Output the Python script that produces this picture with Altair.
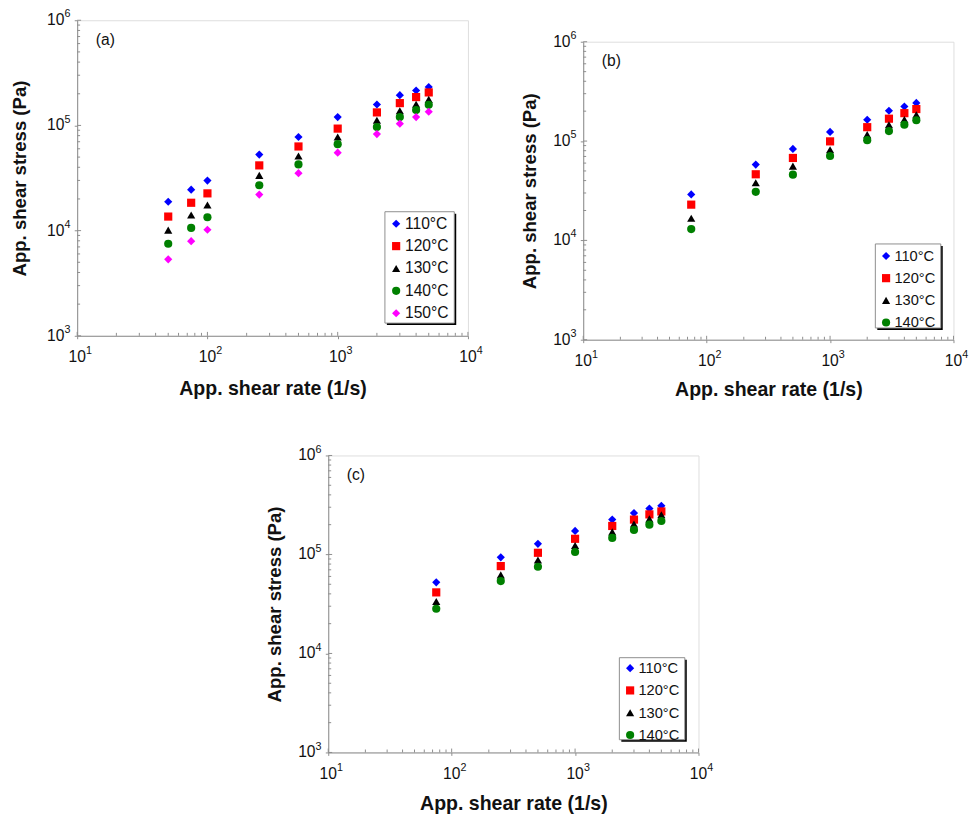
import altair as alt
import pandas as pd

FONT = "Liberation Sans"
GRAY = "#8c8c8c"

temps = ["110°C", "120°C", "130°C", "140°C", "150°C"]
colors = ["#0000FF", "#FF0000", "#000000", "#008000", "#FF00FF"]
shapes = ["diamond", "square", "triangle-up", "circle", "diamond"]

# Panel (a)
rate_a = [50, 75, 100, 250, 500, 1000, 2000, 3000, 4000, 5000]
a_110 = [18800, 24500, 29900, 52800, 77600, 120000, 158000, 194000, 215000, 232000]
a_120 = [13600, 18400, 22600, 41700, 63100, 93300, 133000, 163000, 186000, 206000]
a_130 = [10100, 14100, 17500, 33500, 51300, 77600, 112000, 138000, 159000, 177000]
a_140 = [7500, 10600, 13400, 27000, 42600, 66300, 96700, 120000, 140000, 157000]
a_150 = [5330, 7940, 10200, 22000, 35200, 55100, 82700, 104000, 120000, 135000]

# Panel (b)
rate_b = [75, 250, 500, 1000, 2000, 3000, 4000, 5000]
b_110 = [29000, 58000, 83400, 123600, 164000, 202000, 223000, 242000]
b_120 = [22900, 46300, 67600, 99300, 138000, 168000, 191000, 210000]
b_130 = [16700, 38000, 55900, 81600, 116000, 146000, 165000, 184000]
b_140 = [13000, 30800, 45900, 70700, 102000, 126000, 146000, 162000]

# Panel (c)
rate_c = [75, 250, 500, 1000, 2000, 3000, 4000, 5000]
c_110 = [52300, 93600, 128000, 173000, 225000, 262000, 291000, 310000]
c_120 = [41400, 76300, 104000, 144000, 194000, 225000, 254000, 272000]
c_130 = [33500, 62200, 88100, 123000, 169000, 203000, 229000, 252000]
c_140 = [28300, 53900, 75200, 106000, 147000, 177000, 200000, 218000]

x_major = [10, 100, 1000, 10000]
x_exp = ["1", "2", "3", "4"]
x_minor = [m * d for d in (10, 100, 1000) for m in range(2, 10)]
y_major = [1e3, 1e4, 1e5, 1e6]
y_exp = ["3", "4", "5", "6"]
y_minor = [m * d for d in (1e3, 1e4, 1e5) for m in range(2, 10)]


def long_df(rates, series, names):
    rows = []
    for i, (name, vals) in enumerate(zip(names, series)):
        for r, v in zip(rates, vals):
            rows.append({"rate": r, "stress": v, "temp": name, "k": i})
    return pd.DataFrame(rows)


def panel(rates, series, n, w, h, tag, box, fs, first, step, xtp, ytp):
    names = temps[:n]
    df = long_df(rates, series, names)
    xs = alt.Scale(type="log", domain=[10, 10000], nice=False)
    ys = alt.Scale(type="log", domain=[1000, 1000000], nice=False)
    xaxis = alt.Axis(values=x_major, labels=False, tickSize=3,
                     tickColor=GRAY, domainColor=GRAY, grid=False,
                     title="App. shear rate (1/s)", titleFont=FONT,
                     titleFontSize=20, titleFontWeight="bold", titleColor="#111",
                     titlePadding=xtp)
    yaxis = alt.Axis(values=y_major, labels=False, tickSize=3, tickColor=GRAY,
                     domainColor=GRAY, grid=False, title="App. shear stress (Pa)",
                     titleFont=FONT, titleFontSize=19, titleFontWeight="bold",
                     titleColor="#111", titlePadding=ytp)
    bx, by, bw, bh = box
    shadow = alt.Chart(pd.DataFrame({"v": [0]})).mark_rect(color="black").encode(
        x=alt.value(bx + 2), x2=alt.value(bx + bw + 2),
        y=alt.value(by + 2), y2=alt.value(by + bh + 2))
    frame = alt.Chart(pd.DataFrame({"v": [0]})).mark_rect(
        fill="white", stroke=GRAY, strokeWidth=1).encode(
        x=alt.value(bx), x2=alt.value(bx + bw),
        y=alt.value(by), y2=alt.value(by + bh))
    xt = pd.DataFrame({"v": x_minor})
    xM = pd.DataFrame({"v": x_major, "e": x_exp})
    yt = pd.DataFrame({"v": y_minor})
    yM = pd.DataFrame({"v": y_major, "e": y_exp})
    xminor = alt.Chart(xt).mark_rule(color=GRAY, strokeWidth=1).encode(
        x=alt.X("v:Q", scale=xs, axis=xaxis), y=alt.value(h), y2=alt.value(h - 3))
    xmajor = alt.Chart(xM).mark_rule(color=GRAY, strokeWidth=1).encode(
        x=alt.X("v:Q", scale=xs, axis=xaxis), y=alt.value(h), y2=alt.value(h - 4))
    yminor = alt.Chart(yt).mark_rule(color=GRAY, strokeWidth=1).encode(
        y=alt.Y("v:Q", scale=ys, axis=yaxis), x=alt.value(0), x2=alt.value(3))
    ymajor = alt.Chart(yM).mark_rule(color=GRAY, strokeWidth=1).encode(
        y=alt.Y("v:Q", scale=ys, axis=yaxis), x=alt.value(0), x2=alt.value(4))
    xlab = alt.Chart(xM).mark_text(font=FONT, fontSize=16, color="#111", align="center",
                                   baseline="middle", dy=22).encode(
        x=alt.X("v:Q", scale=xs, axis=xaxis), y=alt.value(h), text=alt.value("10"))
    xsup = alt.Chart(xM).mark_text(font=FONT, fontSize=11, color="#111", align="left",
                                   baseline="middle", dx=9, dy=16).encode(
        x=alt.X("v:Q", scale=xs, axis=xaxis), y=alt.value(h), text="e:N")
    ylab = alt.Chart(yM).mark_text(font=FONT, fontSize=16, color="#111", align="right",
                                   baseline="middle", dx=-13, dy=0).encode(
        y=alt.Y("v:Q", scale=ys, axis=yaxis), x=alt.value(0), text=alt.value("10"))
    ysup = alt.Chart(yM).mark_text(font=FONT, fontSize=11, color="#111", align="left",
                                   baseline="middle", dx=-13, dy=-6).encode(
        y=alt.Y("v:Q", scale=ys, axis=yaxis), x=alt.value(0), text="e:N")
    legend = alt.Legend(orient="none", legendX=bx + 3.5, legendY=by + first - fs / 2,
                        padding=0, labelFont=FONT, labelFontSize=fs,
                        labelColor="#111", symbolSize=70, symbolStrokeWidth=0,
                        rowPadding=step - fs, labelOffset=1)
    pts = alt.Chart(df).mark_point(filled=True, size=70, opacity=1).encode(
        x=alt.X("rate:Q", scale=xs, axis=xaxis),
        y=alt.Y("stress:Q", scale=ys, axis=yaxis),
        color=alt.Color("temp:N", title=None,
                        scale=alt.Scale(domain=names, range=colors[:n]), legend=legend),
        shape=alt.Shape("temp:N", title=None,
                        scale=alt.Scale(domain=names, range=shapes[:n]), legend=legend),
        order=alt.Order("k:Q"),
    )
    label = alt.Chart(pd.DataFrame({"v": [0]})).mark_text(
        font=FONT, fontSize=16, align="left", baseline="middle", color="#111").encode(
        x=alt.value(19), y=alt.value(20), text=alt.value(tag))
    return alt.layer(shadow, frame, xminor, xmajor, yminor, ymajor, xlab, xsup,
                     ylab, ysup, pts, label).properties(width=w, height=h)


def spacer(w, h):
    return alt.Chart(pd.DataFrame({"v": [0]})).mark_point(opacity=0, size=1).encode(
        x=alt.value(w / 2), y=alt.value(h / 2)).properties(
        width=w, height=h, view=alt.ViewBackground(strokeOpacity=0))


pa = panel(rate_a, [a_110, a_120, a_130, a_140, a_150], 5, 400, 323, "(a)",
           (315, 196, 71, 114), 16, 12.3, 22.9, 41, 45)
pb = panel(rate_b, [b_110, b_120, b_130, b_140], 4, 379, 305, "(b)",
           (299, 207, 67, 86), 15, 12.3, 21.7, 38, 41)
pc = panel(rate_c, [c_110, c_120, c_130, c_140], 4, 379, 304, "(c)",
           (298, 207, 67, 84), 15, 10.7, 21.8, 39, 41)


def indep(ch):
    return ch.resolve_scale(color="independent", shape="independent").resolve_legend(
        color="independent", shape="independent")


right = indep(alt.vconcat(spacer(1, 8.5), pb, spacing=0))
top = indep(alt.hconcat(pa, right, spacing=38))
bottom = indep(alt.hconcat(spacer(193, 1), pc, spacing=0))
chart = indep(alt.vconcat(top, bottom, spacing=43.5)).properties(
    padding={"left": 11, "top": -2, "right": 5, "bottom": 0}
).configure_view(stroke=GRAY, strokeWidth=1).configure(background="white")

chart.save("out.html", embed_options={"renderer": "svg", "actions": False})
